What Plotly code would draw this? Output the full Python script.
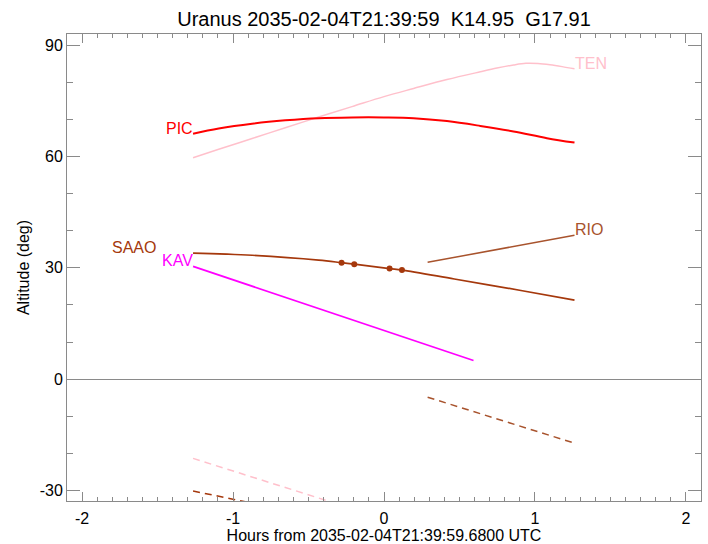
import plotly.graph_objects as go

# ---- data ----
pic_x = [-1.265, -1.095, -0.874, -0.654, -0.433, -0.212, 0.0, 0.196, 0.417, 0.638, 0.858, 1.079, 1.262]
pic_y = [66.2, 67.6, 68.9, 69.8, 70.4, 70.6, 70.6, 70.4, 69.6, 68.3, 66.8, 65.0, 63.8]

ten_x = [-1.265, -1.095, -0.874, -0.654, -0.433, -0.212, 0.0, 0.196, 0.417, 0.638, 0.748, 0.858, 0.94, 1.02, 1.1, 1.18, 1.262]
ten_y = [59.7, 62.0, 64.9, 67.8, 70.7, 73.5, 76.2, 78.4, 80.8, 82.9, 83.9, 84.75, 85.2, 85.15, 84.8, 84.3, 83.7]

saao_x = [-1.265, -0.874, -0.433, -0.281, -0.197, 0.037, 0.119, 0.466, 0.907, 1.262]
saao_y = [34.0, 33.4, 32.1, 31.4, 31.0, 29.8, 29.4, 27.0, 23.9, 21.3]

saao_dot_x = [-0.281, -0.197, 0.037, 0.119]
saao_dot_y = [31.4, 31.0, 29.8, 29.4]

kav_x = [-1.265, 0.141, 0.593]
kav_y = [30.4, 11.2, 5.0]

rio_x = [0.289, 1.262]
rio_y = [31.5, 38.8]

rio_dash_x = [0.289, 1.262]
rio_dash_y = [-4.9, -17.3]

ten_dash_x = [-1.265, -0.2]
ten_dash_y = [-21.4, -35.1]

saao_dash_x = [-1.265, -0.8]
saao_dash_y = [-30.2, -34.1]

x_tick_vals = [-2, -1, 0, 1, 2]
x_tick_text = ["-2", "-1", "0", "1", "2"]
y_tick_vals = [-30, 0, 30, 60, 90]
y_tick_text = ["-30", "0", "30", "60", "90"]

title_text = "Uranus 2035-02-04T21:39:59\u00a0\u00a0K14.95\u00a0\u00a0G17.91"
x_title = "Hours from 2035-02-04T21:39:59.6800 UTC"
y_title = "Altitude (deg)"

# ---- styling ----
FONT = "Liberation Sans, Arial, Helvetica, sans-serif"
C_PIC = "#FF0000"
C_TEN = "#FFC0CB"
C_SAAO = "#A5380C"
C_KAV = "#FF00FF"
C_RIO = "#A8532D"
AX = "#8a8a8a"

fig = go.Figure()

def line(x, y, color, width=1.5, dash=None, shape="spline"):
    fig.add_trace(go.Scatter(x=x, y=y, mode="lines",
                             line=dict(color=color, width=width, dash=dash, shape=shape),
                             showlegend=False, hoverinfo="skip"))

line(ten_dash_x, ten_dash_y, C_TEN, 1.5, "7px,5px", "linear")
line(saao_dash_x, saao_dash_y, C_SAAO, 1.5, "7px,5px", "linear")
line(rio_dash_x, rio_dash_y, C_RIO, 1.5, "7px,5px", "linear")
line(ten_x, ten_y, C_TEN, 1.5)
line(pic_x, pic_y, C_PIC, 2)
line(kav_x, kav_y, C_KAV, 1.7, None, "linear")
line(rio_x, rio_y, C_RIO, 1.5, None, "linear")
line(saao_x, saao_y, C_SAAO, 1.7)
fig.add_trace(go.Scatter(x=saao_dot_x, y=saao_dot_y, mode="markers",
                         marker=dict(color=C_SAAO, size=6),
                         showlegend=False, hoverinfo="skip"))

# labels: (text, x, y, side, color, extra xshift)
labels = [
    ("PIC", pic_x[0], pic_y[0], "right", C_PIC, 0),
    ("SAAO", saao_x[0], saao_y[0], "right", C_SAAO, -37),
    ("KAV", kav_x[0], kav_y[0], "right", C_KAV, 0),
    ("TEN", ten_x[-1], ten_y[-1], "left", C_TEN, 0),
    ("RIO", rio_x[-1], rio_y[-1], "left", C_RIO, 0),
]
for txt, lx, ly, side, col, xs in labels:
    fig.add_annotation(x=lx, y=ly, text=txt, showarrow=False,
                       xanchor=side, yanchor="middle",
                       xshift=xs + (1.5 if side == "right" else -1.5), yshift=5.5,
                       font=dict(family=FONT, size=16, color=col))

fig.update_layout(
    width=708, height=544,
    margin=dict(l=67, r=7, t=34, b=43, pad=0),
    paper_bgcolor="white", plot_bgcolor="white",
    font=dict(family=FONT, size=16, color="black"),
    title=dict(text=title_text, x=0.5, xanchor="center", xref="paper",
               y=1 - 19 / 544, yanchor="middle", yref="container",
               font=dict(size=20, family=FONT, color="black")),
    xaxis=dict(range=[-2.1, 2.1], tickmode="array", tickvals=x_tick_vals, ticktext=x_tick_text,
               ticks="inside", ticklen=9, tickcolor=AX, tickwidth=1,
               showline=True, linecolor=AX, linewidth=1, mirror="ticks",
               showgrid=False, zeroline=False, ticklabelstandoff=3, automargin=False,
               minor=dict(dtick=0.1, tick0=0, ticks="inside", ticklen=4, tickcolor=AX),
               title=dict(text=x_title, standoff=5, font=dict(size=16)),
               tickfont=dict(size=16)),
    yaxis=dict(range=[-32.9, 93.1], tickmode="array", tickvals=y_tick_vals, ticktext=y_tick_text,
               ticks="inside", ticklen=13, tickcolor=AX, tickwidth=1,
               showline=True, linecolor=AX, linewidth=1, mirror="ticks",
               showgrid=False, zeroline=True, zerolinecolor=AX, zerolinewidth=1,
               automargin=False,
               minor=dict(dtick=10, tick0=0, ticks="inside", ticklen=6, tickcolor=AX),
               title=dict(text=y_title, standoff=6, font=dict(size=16)),
               tickfont=dict(size=16)),
)

fig.write_html("out.html")
